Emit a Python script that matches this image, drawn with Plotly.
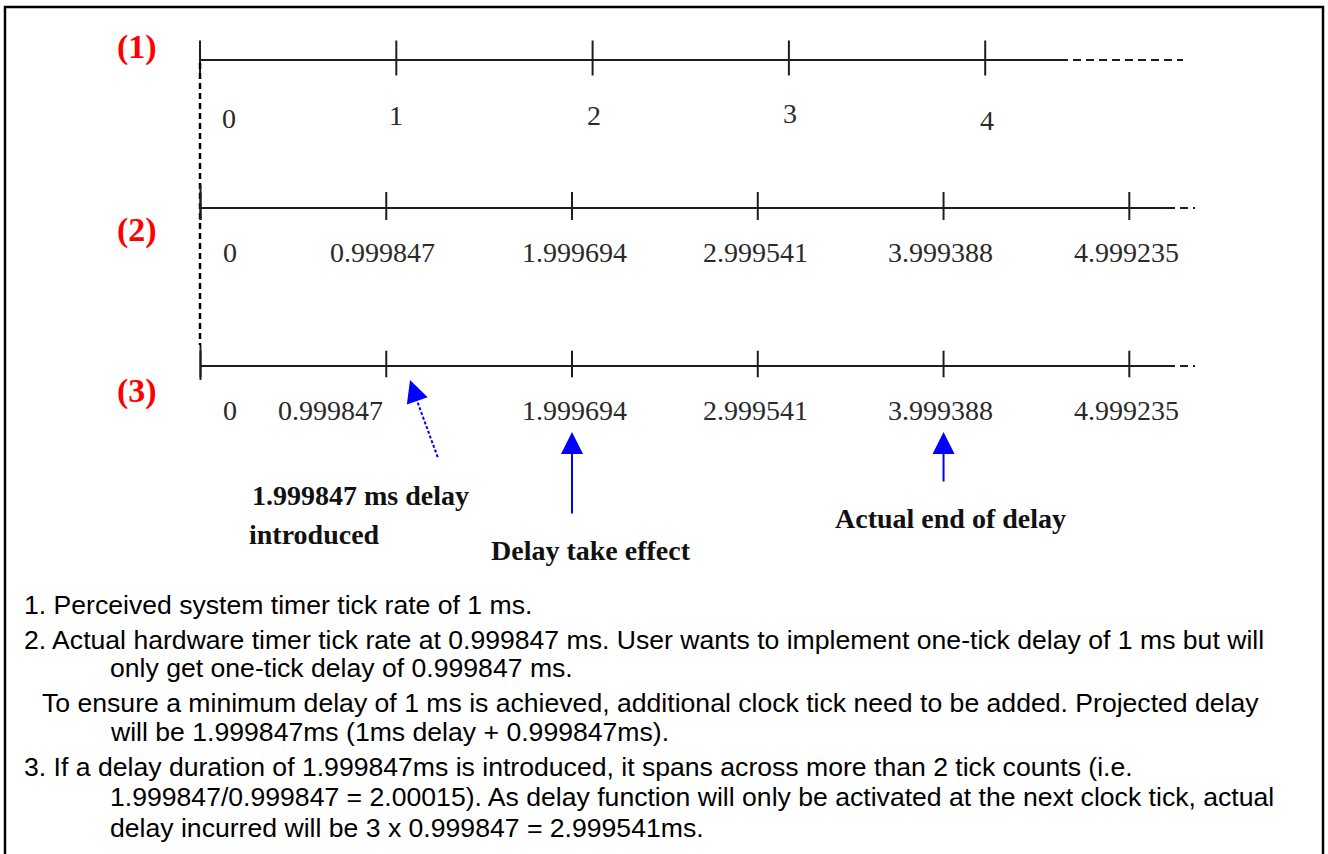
import plotly.graph_objects as go

# ---------------- data ----------------
perceived_ticks = [0, 1, 2, 3, 4]
perceived_labels = ["0", "1", "2", "3", "4"]
actual_ticks = [0, 0.999847, 1.999694, 2.999541, 3.999388, 4.999235]
actual_labels = ["0", "0.999847", "1.999694", "2.999541", "3.999388", "4.999235"]
row_names = ["(1)", "(2)", "(3)"]
arrow_targets = [1.1276, 1.999694, 3.999388]          # points on timeline (3), ms
arrow_captions = [["1.999847 ms delay", "introduced"], ["Delay take effect"], ["Actual end of delay"]]
notes = [
    "1. Perceived system timer tick rate of 1 ms.",
    "2. Actual hardware timer tick rate at 0.999847 ms. User wants to implement one-tick delay of 1 ms but will",
    "only get one-tick delay of 0.999847 ms.",
    "To ensure a minimum delay of 1 ms is achieved, additional clock tick need to be added. Projected delay",
    "will be 1.999847ms (1ms delay + 0.999847ms).",
    "3. If a delay duration of 1.999847ms is introduced, it spans across more than 2 tick counts (i.e.",
    "1.999847/0.999847 = 2.00015). As delay function will only be activated at the next clock tick, actual",
    "delay incurred will be 3 x 0.999847 = 2.999541ms.",
]

# ---------------- layout / style ----------------
W, H = 1328, 854
X_RANGES = [[-1.0189, 5.7463], [-1.0792, 6.0687], [-1.0792, 6.0687]]
ROW_Y = [60, 208, 366]
TICK_SIZE = [25, 20, 19]
SOLID_EXT = [0.381, 0.203, 0.203]
DASH_EXT = [1.008, 0.354, 0.354]
ORIGIN_SPAN = [(-17, 3), (-23, 12), (-21, 14)]
ROW_LABEL_Y = [[118, 115, 115, 113, 120], [252] * 6, [410] * 6]
ROW_LABEL_SHIFT = [[29, 0, 1, 1, 2], [29, -4, 2, -2, -3, -3], [29, -56, 2, -2, -3, -3]]
NAME_POS = [(137, 47), (137, 230), (137, 391)]
ARROW_TIP_Y = [380, 432, 432]
ARROW_TAIL = [(7, 20), (0, 83), (0, 51)]
CAPTION_POS = [[(250, 495), (247, 534)], [(489, 550)], [(833, 518)]]
NOTE_X = [22, 22, 108, 40, 108, 22, 108, 108]
NOTE_Y = [605, 640, 668, 703, 732, 767, 797, 828]
INK = "#1e1e1e"
BLUE = "#0000ff"
SERIF = "Liberation Serif, Times New Roman, serif"
SANS = "Liberation Sans, Arial, sans-serif"

axes = ["x", "x2", "x3"]
rows = [(perceived_ticks, perceived_labels), (actual_ticks, actual_labels), (actual_ticks, actual_labels)]

fig = go.Figure()

for i, (ticks, labels) in enumerate(rows):
    ax = axes[i]
    last = ticks[-1]
    fig.add_trace(go.Scatter(x=[ticks[0], last + SOLID_EXT[i]], y=[ROW_Y[i]] * 2, mode="lines",
                             line=dict(color=INK, width=2), xaxis=ax, yaxis="y", hoverinfo="skip"))
    fig.add_trace(go.Scatter(x=[last + SOLID_EXT[i], last + DASH_EXT[i]], y=[ROW_Y[i]] * 2, mode="lines",
                             line=dict(color=INK, width=2, dash="8px,5px"), xaxis=ax, yaxis="y",
                             hoverinfo="skip"))
    fig.add_trace(go.Scatter(x=ticks, y=[ROW_Y[i] - 2] * len(ticks), mode="markers",
                             marker=dict(symbol="line-ns", size=TICK_SIZE[i],
                                         line=dict(color=INK, width=2)),
                             xaxis=ax, yaxis="y", hoverinfo="skip"))
    lo, hi = ORIGIN_SPAN[i]
    fig.add_trace(go.Scatter(x=[ticks[0]] * 2, y=[ROW_Y[i] + lo, ROW_Y[i] + hi], mode="lines",
                             line=dict(color=INK, width=2), xaxis=ax, yaxis="y", hoverinfo="skip"))
    for j, (t, lab) in enumerate(zip(ticks, labels)):
        fig.add_annotation(x=t, y=ROW_LABEL_Y[i][j], xref=ax, yref="y", text=lab, showarrow=False,
                           xshift=ROW_LABEL_SHIFT[i][j], xanchor="center", yanchor="middle",
                           font=dict(family=SERIF, size=28, color="#2a2a2a"))
    px, py = NAME_POS[i]
    fig.add_annotation(x=px / W, y=1 - py / H, xref="paper", yref="paper", text="<b>%s</b>" % row_names[i],
                       showarrow=False, xanchor="center", yanchor="middle",
                       font=dict(family=SERIF, size=34, color="#ff0000"))

# vertical dashed origin line
fig.add_trace(go.Scatter(x=[perceived_ticks[0]] * 2, y=[ROW_Y[0] + 3, ROW_Y[2] - 21], mode="lines",
                         line=dict(color="#000000", width=2.5, dash="6px,4px"), xaxis="x", yaxis="y",
                         hoverinfo="skip"))

# arrows
for k, t in enumerate(arrow_targets):
    dx, dy = ARROW_TAIL[k]
    fig.add_annotation(x=t, y=ARROW_TIP_Y[k], xref="x3", yref="y", ax=dx, ay=dy, text="",
                       showarrow=True, arrowhead=2, arrowsize=2.2, arrowwidth=2, arrowcolor=BLUE,
                       standoff=0)
    for line, (cx, cy) in zip(arrow_captions[k], CAPTION_POS[k]):
        fig.add_annotation(x=cx / W, y=1 - cy / H, xref="paper", yref="paper", text="<b>%s</b>" % line,
                           showarrow=False, xanchor="left", yanchor="middle",
                           font=dict(family=SERIF, size=28, color="#111111"))

# dotted shaft of the first arrow
fig.add_shape(type="line", xref="x3", yref="y", xsizemode="pixel", xanchor=arrow_targets[0],
              x0=6, x1=28, y0=ARROW_TIP_Y[0] + 18, y1=ARROW_TIP_Y[0] + 78,
              line=dict(color=BLUE, width=2, dash="3px,2px"))

# notes
for txt, nx, ny in zip(notes, NOTE_X, NOTE_Y):
    fig.add_annotation(x=nx / W, y=1 - ny / H, xref="paper", yref="paper", text=txt, showarrow=False,
                       xanchor="left", yanchor="middle", font=dict(family=SANS, size=26.6, color="#000000"))

# border
fig.add_shape(type="rect", xref="paper", yref="paper", x0=5 / W, x1=1323 / W, y0=-0.02, y1=1 - 7 / H,
              line=dict(color="#000000", width=2.5))

fig.update_layout(
    width=W, height=H, margin=dict(l=0, r=0, t=0, b=0),
    paper_bgcolor="white", plot_bgcolor="white", showlegend=False,
    xaxis=dict(range=X_RANGES[0], visible=False, fixedrange=True),
    xaxis2=dict(range=X_RANGES[1], visible=False, overlaying="x", anchor="y", fixedrange=True),
    xaxis3=dict(range=X_RANGES[2], visible=False, overlaying="x", anchor="y", fixedrange=True),
    yaxis=dict(range=[H, 0], visible=False, fixedrange=True),
)

fig.write_html("out.html", config={"displayModeBar": False},
               post_script="document.body.style.margin='0px';document.body.style.overflow='hidden';")
